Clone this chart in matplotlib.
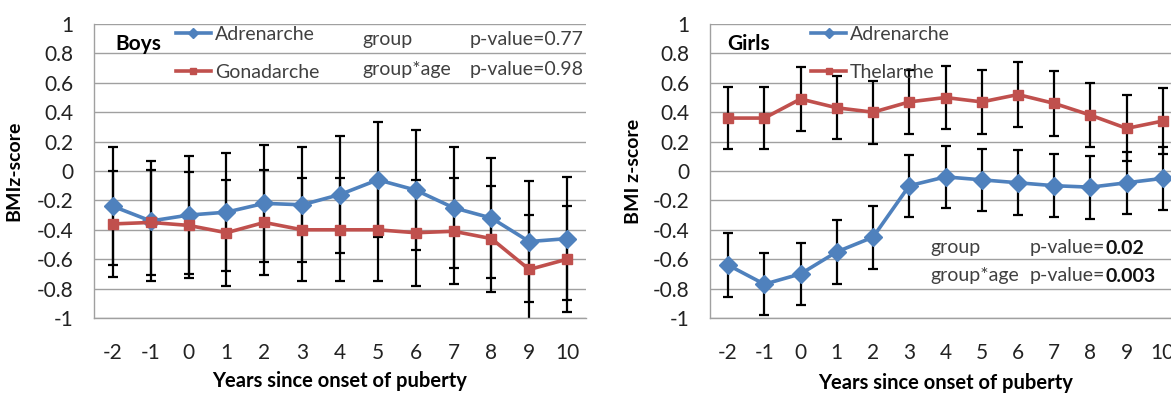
import matplotlib.pyplot as plt
import numpy as np

plt.rcParams['font.family'] = ['Lato', 'DejaVu Sans']

years = [-2, -1, 0, 1, 2, 3, 4, 5, 6, 7, 8, 9, 10]
yticks = [1, 0.8, 0.6, 0.4, 0.2, 0, -0.2, -0.4, -0.6, -0.8, -1]

# boys
boys_adren = [-0.24, -0.34, -0.30, -0.28, -0.22, -0.23, -0.16, -0.06, -0.13, -0.25, -0.32, -0.48, -0.46]
boys_adren_err = [0.40, 0.41, 0.40, 0.40, 0.40, 0.39, 0.40, 0.39, 0.41, 0.41, 0.41, 0.41, 0.42]
boys_gonad = [-0.36, -0.35, -0.37, -0.42, -0.35, -0.40, -0.40, -0.40, -0.42, -0.41, -0.46, -0.67, -0.60]
boys_gonad_err = [0.36, 0.36, 0.36, 0.36, 0.36, 0.35, 0.35, 0.35, 0.36, 0.36, 0.36, 0.37, 0.36]

# girls
girls_adren = [-0.64, -0.77, -0.70, -0.55, -0.45, -0.10, -0.04, -0.06, -0.08, -0.10, -0.11, -0.08, -0.05]
girls_adren_err = [0.22, 0.21, 0.21, 0.22, 0.215, 0.21, 0.21, 0.21, 0.22, 0.215, 0.215, 0.21, 0.215]
girls_thel = [0.36, 0.36, 0.49, 0.43, 0.40, 0.47, 0.50, 0.47, 0.52, 0.46, 0.38, 0.29, 0.34]
girls_thel_err = [0.21, 0.21, 0.215, 0.215, 0.215, 0.22, 0.215, 0.22, 0.22, 0.22, 0.22, 0.225, 0.225]

BLUE = '#4F81BD'
RED = '#C0504D'
TXT = '#404040'

W, H = 1171, 393
fig = plt.figure(figsize=(W / 100, H / 100), dpi=100)


def px(x, y):
    return x / W, 1 - y / H


def panel(left, right, top, bottom):
    ax = fig.add_axes([left / W, 1 - bottom / H, (right - left) / W, (bottom - top) / H])
    ax.set_xlim(-2.5, 10.5)
    ax.set_ylim(-1, 1)
    ax.set_xticks(years)
    ax.set_xticklabels([str(v) for v in years])
    ax.set_yticks(yticks)
    ax.set_yticklabels(['%g' % v for v in yticks])
    ax.tick_params(length=0, labelsize=15, colors='#222222')
    ax.tick_params(axis='y', pad=15)
    ax.tick_params(axis='x', pad=18)
    ax.grid(axis='y', color='#A0A0A0', linewidth=1.0)
    ax.set_axisbelow(True)
    for s in ['top', 'right']:
        ax.spines[s].set_visible(False)
    for s in ['left', 'bottom']:
        ax.spines[s].set_color('#A0A0A0')
        ax.spines[s].set_linewidth(1.0)
    return ax


def series(ax, x, y, err, color, marker, ms, label):
    ax.errorbar(x, y, yerr=err, fmt='none', ecolor='black', elinewidth=1.6,
                capsize=3.5, capthick=1.6, zorder=2)
    line, = ax.plot(x, y, color=color, linewidth=2.6, marker=marker, markersize=ms,
                    markeredgecolor=color, label=label, zorder=3)
    return line


def pvalue(ax, x, y, bold):
    t = fig.text(*px(x, y), 'p-value=', fontsize=14, color=TXT, va='center')
    ax.annotate(bold, xy=(1, 0), xycoords=t, va='bottom', ha='left',
                fontsize=14, fontweight='bold', color='#111111')


def legend(ax, handles, x):
    ax.legend(handles=handles, loc='upper left', bbox_to_anchor=px(x, 26),
              bbox_transform=fig.transFigure, frameon=False, fontsize=14,
              handlelength=1.8, handletextpad=0.2, labelspacing=1.08, borderpad=0,
              borderaxespad=0, markerscale=0.6, labelcolor=TXT)


# ---- Boys ----
ax1 = panel(94, 586, 24, 318)
l1 = series(ax1, years, boys_adren, boys_adren_err, BLUE, 'D', 9, 'Adrenarche')
l2 = series(ax1, years, boys_gonad, boys_gonad_err, RED, 's', 7, 'Gonadarche')
ax1.set_ylabel('BMIz-score', fontsize=14, fontweight='bold')
ax1.yaxis.set_label_coords((22 - 94) / 492, 0.5)
ax1.set_xlabel('Years since onset of puberty', fontsize=14.5, fontweight='bold', labelpad=6)
fig.text(*px(115, 44), 'Boys', fontsize=15, fontweight='bold', va='center')
legend(ax1, [l1, l2], 176)
fig.text(*px(362, 40), 'group', fontsize=14, color=TXT, va='center')
fig.text(*px(470, 40), 'p-value=0.77', fontsize=14, color=TXT, va='center')
fig.text(*px(362, 69), 'group*age', fontsize=14, color=TXT, va='center')
fig.text(*px(470, 69), 'p-value=0.98', fontsize=14, color=TXT, va='center')

# ---- Girls ----
ax2 = panel(710, 1181, 24, 318)
l3 = series(ax2, years, girls_adren, girls_adren_err, BLUE, 'D', 9, 'Adrenarche')
l4 = series(ax2, years, girls_thel, girls_thel_err, RED, 's', 7, 'Thelarche')
ax2.set_ylabel('BMI z-score', fontsize=14, fontweight='bold')
ax2.yaxis.set_label_coords((642 - 710) / 471, 0.5)
ax2.set_xlabel('Years since onset of puberty', fontsize=14.5, fontweight='bold', labelpad=7)
fig.text(*px(727, 44), 'Girls', fontsize=15, fontweight='bold', va='center')
legend(ax2, [l3, l4], 811)
fig.text(*px(930, 248), 'group', fontsize=14, color=TXT, va='center')
pvalue(ax2, 1030, 248, '0.02')
fig.text(*px(930, 276), 'group*age', fontsize=14, color=TXT, va='center')
pvalue(ax2, 1030, 276, '0.003')

fig.savefig('out.png', dpi=100)
